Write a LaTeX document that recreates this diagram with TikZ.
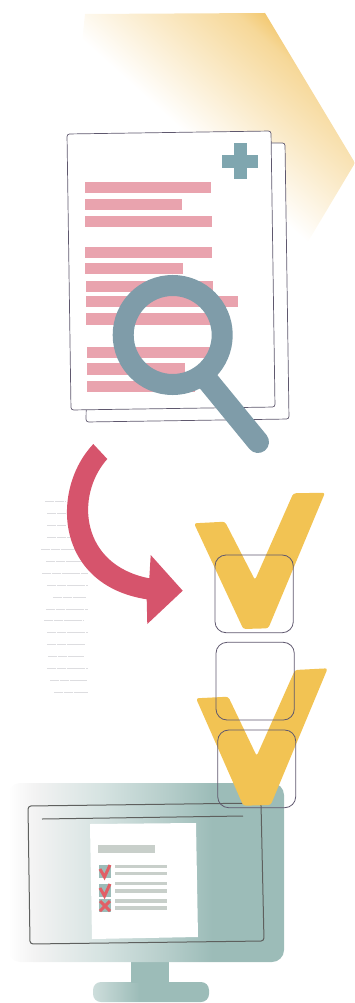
\documentclass[tikz,border=0pt]{standalone}
\usetikzlibrary{calc}
\definecolor{barred}{HTML}{E9A3AE}
\definecolor{lens}{HTML}{7F9CA9}
\definecolor{plusc}{HTML}{7FA6AF}
\definecolor{arrowred}{HTML}{D6546C}
\definecolor{vyellow}{HTML}{F2C353}
\definecolor{outline}{HTML}{5F586E}
\definecolor{screenline}{HTML}{5E605E}
\definecolor{teal}{HTML}{9CBCB8}
\definecolor{hexorange}{HTML}{EFB845}
\definecolor{faint}{HTML}{DDDDE0}
\definecolor{minigray}{HTML}{C8CFCA}
\definecolor{checkred}{HTML}{E25F66}
\pgfdeclarehorizontalshading{monitorshade}{100bp}{color(0bp)=(white); color(25bp)=(white); color(30bp)=(white!90!gray); color(42bp)=(teal!42!white); color(55bp)=(teal!78!white); color(62bp)=(teal); color(100bp)=(teal)}
\pgfdeclarehorizontalshading{baseshade}{100bp}{color(0bp)=(teal!50!white); color(25bp)=(teal!50!white); color(45bp)=(teal); color(100bp)=(teal)}
\pgfdeclareverticalshading{hexshade}{100bp}{color(0bp)=(white); color(25bp)=(white); color(45bp)=(hexorange!30!white); color(62bp)=(hexorange!55!white); color(75bp)=(hexorange); color(100bp)=(hexorange)}
\tikzset{
  x=1pt, y=-1pt,
  pagebox/.style={draw=outline, line width=.7pt, fill=white, rounded corners=2.5pt},
  redbar/.style={fill=barred},
  tickbox/.style={draw=outline, line width=.8pt, rounded corners=11pt},
  bigv/.style={fill=vyellow, rounded corners=2.5pt},
  faintline/.style={draw=faint, line width=.5pt, dash pattern=on 9pt off .8pt},
  minibar/.style={fill=minigray},
  minired/.style={draw=checkred, line width=3pt},
}
\begin{document}
\begin{tikzpicture}
\useasboundingbox (0,0) rectangle (355,1003);
% hexagon with faded orange
\begin{scope}
  \clip (85,14) -- (265,13) -- (355,163) -- (300,255) -- (60,255) -- cycle;
  \begin{scope}[transform canvas={shift={(160pt,-110pt)}, rotate=-42}]
    \shade[shading=hexshade] (-500pt,0pt) rectangle (500pt,165pt);
  \end{scope}
\end{scope}
% pages
\draw[pagebox] (90,143) -- (285,143) -- (289,419) -- (86,422) -- cycle;
\draw[pagebox] (67,134) -- (271,131) -- (275,407) -- (71,410) -- cycle;
% plus
\fill[plusc] (234,143) rectangle (247,179);
\fill[plusc] (222,155) rectangle (258,168);
% bars
\fill[redbar] (84.7,181.7) rectangle (211.3,192.7);
\fill[redbar] (84.7,199) rectangle (182.3,210);
\fill[redbar] (84.7,215.7) rectangle (211.7,226.7);
\fill[redbar] (85.3,246.7) rectangle (212.3,258);
\fill[redbar] (85.3,263.3) rectangle (183.3,274.3);
\fill[redbar] (85.7,280.7) rectangle (212.7,291.7);
\fill[redbar] (86.3,296) rectangle (237.7,307.3);
\fill[redbar] (86.3,313.3) rectangle (213,325);
\fill[redbar] (87,346.7) rectangle (213,358);
\fill[redbar] (87,363.3) rectangle (185,375);
\fill[redbar] (87.3,380.7) rectangle (195,391.7);
% magnifier
\draw[lens, line width=21pt] (172.7,335) circle[radius=49.5];
\draw[lens, line width=22pt, line cap=round] (208,381) -- (258,442);
% faint lines
\foreach \ya/\xa/\xb in {501.7/45/66, 513.6/47/66, 525.5/47/66, 537.4/47/70, 549.3/41/76, 561.2/46/82, 573.1/42/88, 585/47/88, 596.9/53/86, 608.8/46/88, 620.7/44/84, 632.6/47/88, 644.5/47/85, 656.4/48/84, 668.3/47/88, 680.2/50/87, 692.1/54/88}
  \draw[faintline] (\xa,\ya) -- (\xb,\ya);
% red arrow
\fill[arrowred] (93.3,444) .. controls (50,490) and (55,585) .. (146.7,599.3)
  -- (147.3,624) -- (182.7,590.7) -- (150.7,555) -- (149.3,578.3)
  .. controls (80,565) and (75,495) .. (107.3,459) -- cycle;
% monitor
\shade[shading=baseshade, rounded corners=8pt] (93,982) -- (209,982) -- (209,1002) -- (93,1002) -- cycle;
\fill[teal] (131,960) rectangle (169,983);
\shade[shading=monitorshade, rounded corners=12pt] (8,783) -- (284,783) -- (284,962) -- (8,962) -- cycle;
\draw[screenline, line width=1pt, rounded corners=3pt] (28,806) -- (261,803) -- (264,941) -- (30,944) -- cycle;
\draw[screenline, line width=1pt] (42,819) -- (243,816);
\fill[white] (90,824) -- (196,823) -- (198,937) -- (92,939) -- cycle;
% mini document
\fill[minigray] (98,845) rectangle (155,853);
\foreach \yb in {866.5,873.5,883.5,891,901,908}
  \fill[minibar] (115,\yb-1.7) rectangle (166.5,\yb+1.7);
\foreach \yb in {865,884,899}
  \fill[teal] (99,\yb) rectangle (111,\yb+13);
\draw[minired] (100,869) -- (104.5,877) -- (110,865);
\draw[minired] (100,888) -- (104.5,896) -- (110,884);
\draw[minired] (100,901) -- (110,911);
\draw[minired] (110,901) -- (100,911);
% large checks
\fill[bigv] (194,523.3) -- (225,521.7) -- (255,580) -- (293.3,493.3) -- (325,492.7) -- (268.3,628.3) -- (243.3,629) -- cycle;
\fill[bigv] (196,698.3) -- (228.3,696.7) -- (256.7,756) -- (295,670) -- (327.7,668.3) -- (270.7,805) -- (243.3,805.7) -- cycle;
% tick boxes
\draw[tickbox] (215,555) rectangle (293.3,632.7);
\draw[tickbox] (216,642.3) rectangle (294.3,720);
\draw[tickbox] (217.7,730) rectangle (295.7,807.7);
\end{tikzpicture}
\end{document}
